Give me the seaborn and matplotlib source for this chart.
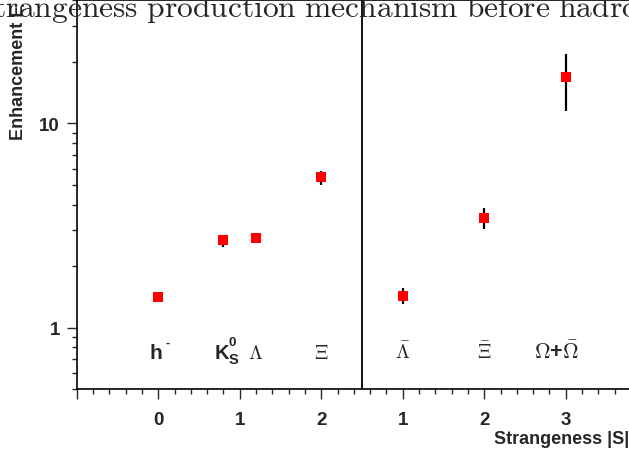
import numpy as np
import pandas as pd
import matplotlib
matplotlib.use('Agg')
import matplotlib.pyplot as plt
import matplotlib.ticker as mticker
import seaborn as sns

# =============================================================================
# DADOS
# =============================================================================
pos_x = [0.0, 0.8, 1.2, 2.0, 3.0, 4.0, 5.0]
enh = [1.41, 2.67, 2.75, 5.44, 1.43, 3.45, 16.8]
err_lo = [0.0, 0.19, 0.0, 0.46, 0.13, 0.41, 5.3]
err_hi = [0.0, 0.17, 0.0, 0.43, 0.13, 0.41, 5.1]

tick_pos = [-1, 0, 1, 2, 3, 4, 5]
tick_lab = ['', '0', '1', '2', '1', '2', '3']

part_x = [-0.03, 0.78, 1.2, 2.0, 3.0, 4.0, 4.88]
part_lab = ['h', 'K', r'$\Lambda$', r'$\Xi$', r'$\bar{\Lambda}$', r'$\bar{\Xi}$',
            r'$\Omega$+$\bar{\Omega}$']
part_size = [15, 14.5, 14.5, 14.5, 14.5, 14.5, 15.5]

df = pd.DataFrame({'x': pos_x, 'E': enh})

# =============================================================================
# FIGURA
# =============================================================================
sns.set_style('ticks')
plt.rcParams['mathtext.fontset'] = 'cm'
plt.rcParams['font.family'] = ['Liberation Sans', 'DejaVu Sans']

fig = plt.figure(figsize=(6.29, 4.52), dpi=100)
ax = fig.add_axes([0.122, 0.137, 0.894, 0.860])

ax.errorbar(pos_x, enh, yerr=[err_lo, err_hi], fmt='none', ecolor='black',
            elinewidth=1.6, capsize=0, zorder=2)
sns.scatterplot(data=df, x='x', y='E', marker='s', color='red', s=50,
                linewidth=0, ax=ax, zorder=3)

ax.set_yscale('log')
ax.set_xlim(-1, 5.9)
ax.set_ylim(0.5, 40)
ax.axvline(2.5, color='black', lw=1.3)

ax.set_xticks(tick_pos)
ax.set_xticklabels(tick_lab)
ax.xaxis.set_minor_locator(mticker.MultipleLocator(0.2))
ax.yaxis.set_major_locator(mticker.FixedLocator([1, 10]))
ax.yaxis.set_major_formatter(mticker.FixedFormatter(['1', '10']))
ax.yaxis.set_minor_locator(mticker.LogLocator(subs=np.arange(2, 10)))
ax.yaxis.set_minor_formatter(mticker.NullFormatter())

ax.tick_params(which='major', length=7, width=1, direction='out', pad=9,
               labelsize=13.5)
ax.tick_params(which='minor', length=3.5, width=1, direction='out')
ax.tick_params(axis='y', pad=5)
for lab in ax.get_xticklabels() + ax.get_yticklabels():
    lab.set_fontweight('bold')
for sp in ax.spines.values():
    sp.set_linewidth(1.2)
    sp.set_color('black')
ax.set_xlabel('')
ax.set_ylabel('')

# etiquetas das particulas
y_lab = 0.71
for xx, lab, fs in zip(part_x, part_lab, part_size):
    ax.text(xx, y_lab, lab, ha='center', va='baseline', fontsize=fs,
            fontweight='bold')
ax.annotate('-', (0.0, y_lab), xytext=(5.5, 9), textcoords='offset points',
            fontsize=9, fontweight='bold', va='baseline')
ax.annotate('0', (0.8, y_lab), xytext=(4, 9), textcoords='offset points',
            fontsize=9.5, fontweight='bold', va='baseline')
ax.annotate('S', (0.8, y_lab), xytext=(4, -3.5), textcoords='offset points',
            fontsize=10.5, fontweight='bold', va='baseline')

# titulo e eixos
fig.text(-24 / 629, 1 - 17 / 452,
         r'$\mathrm{Strangeness\ production\ mechanism\ before\ hadronization}$',
         fontsize=22.7, ha='left', va='baseline')
fig.text(19 / 629, 1 - 140 / 452, 'Enhancement E', rotation=90,
         fontsize=13, fontweight='bold', ha='center', va='bottom')
fig.text(629.5 / 629, 1 - 444 / 452, 'Strangeness |S|', fontsize=13,
         fontweight='bold', ha='right', va='baseline')

fig.savefig('out.png', dpi=100)
